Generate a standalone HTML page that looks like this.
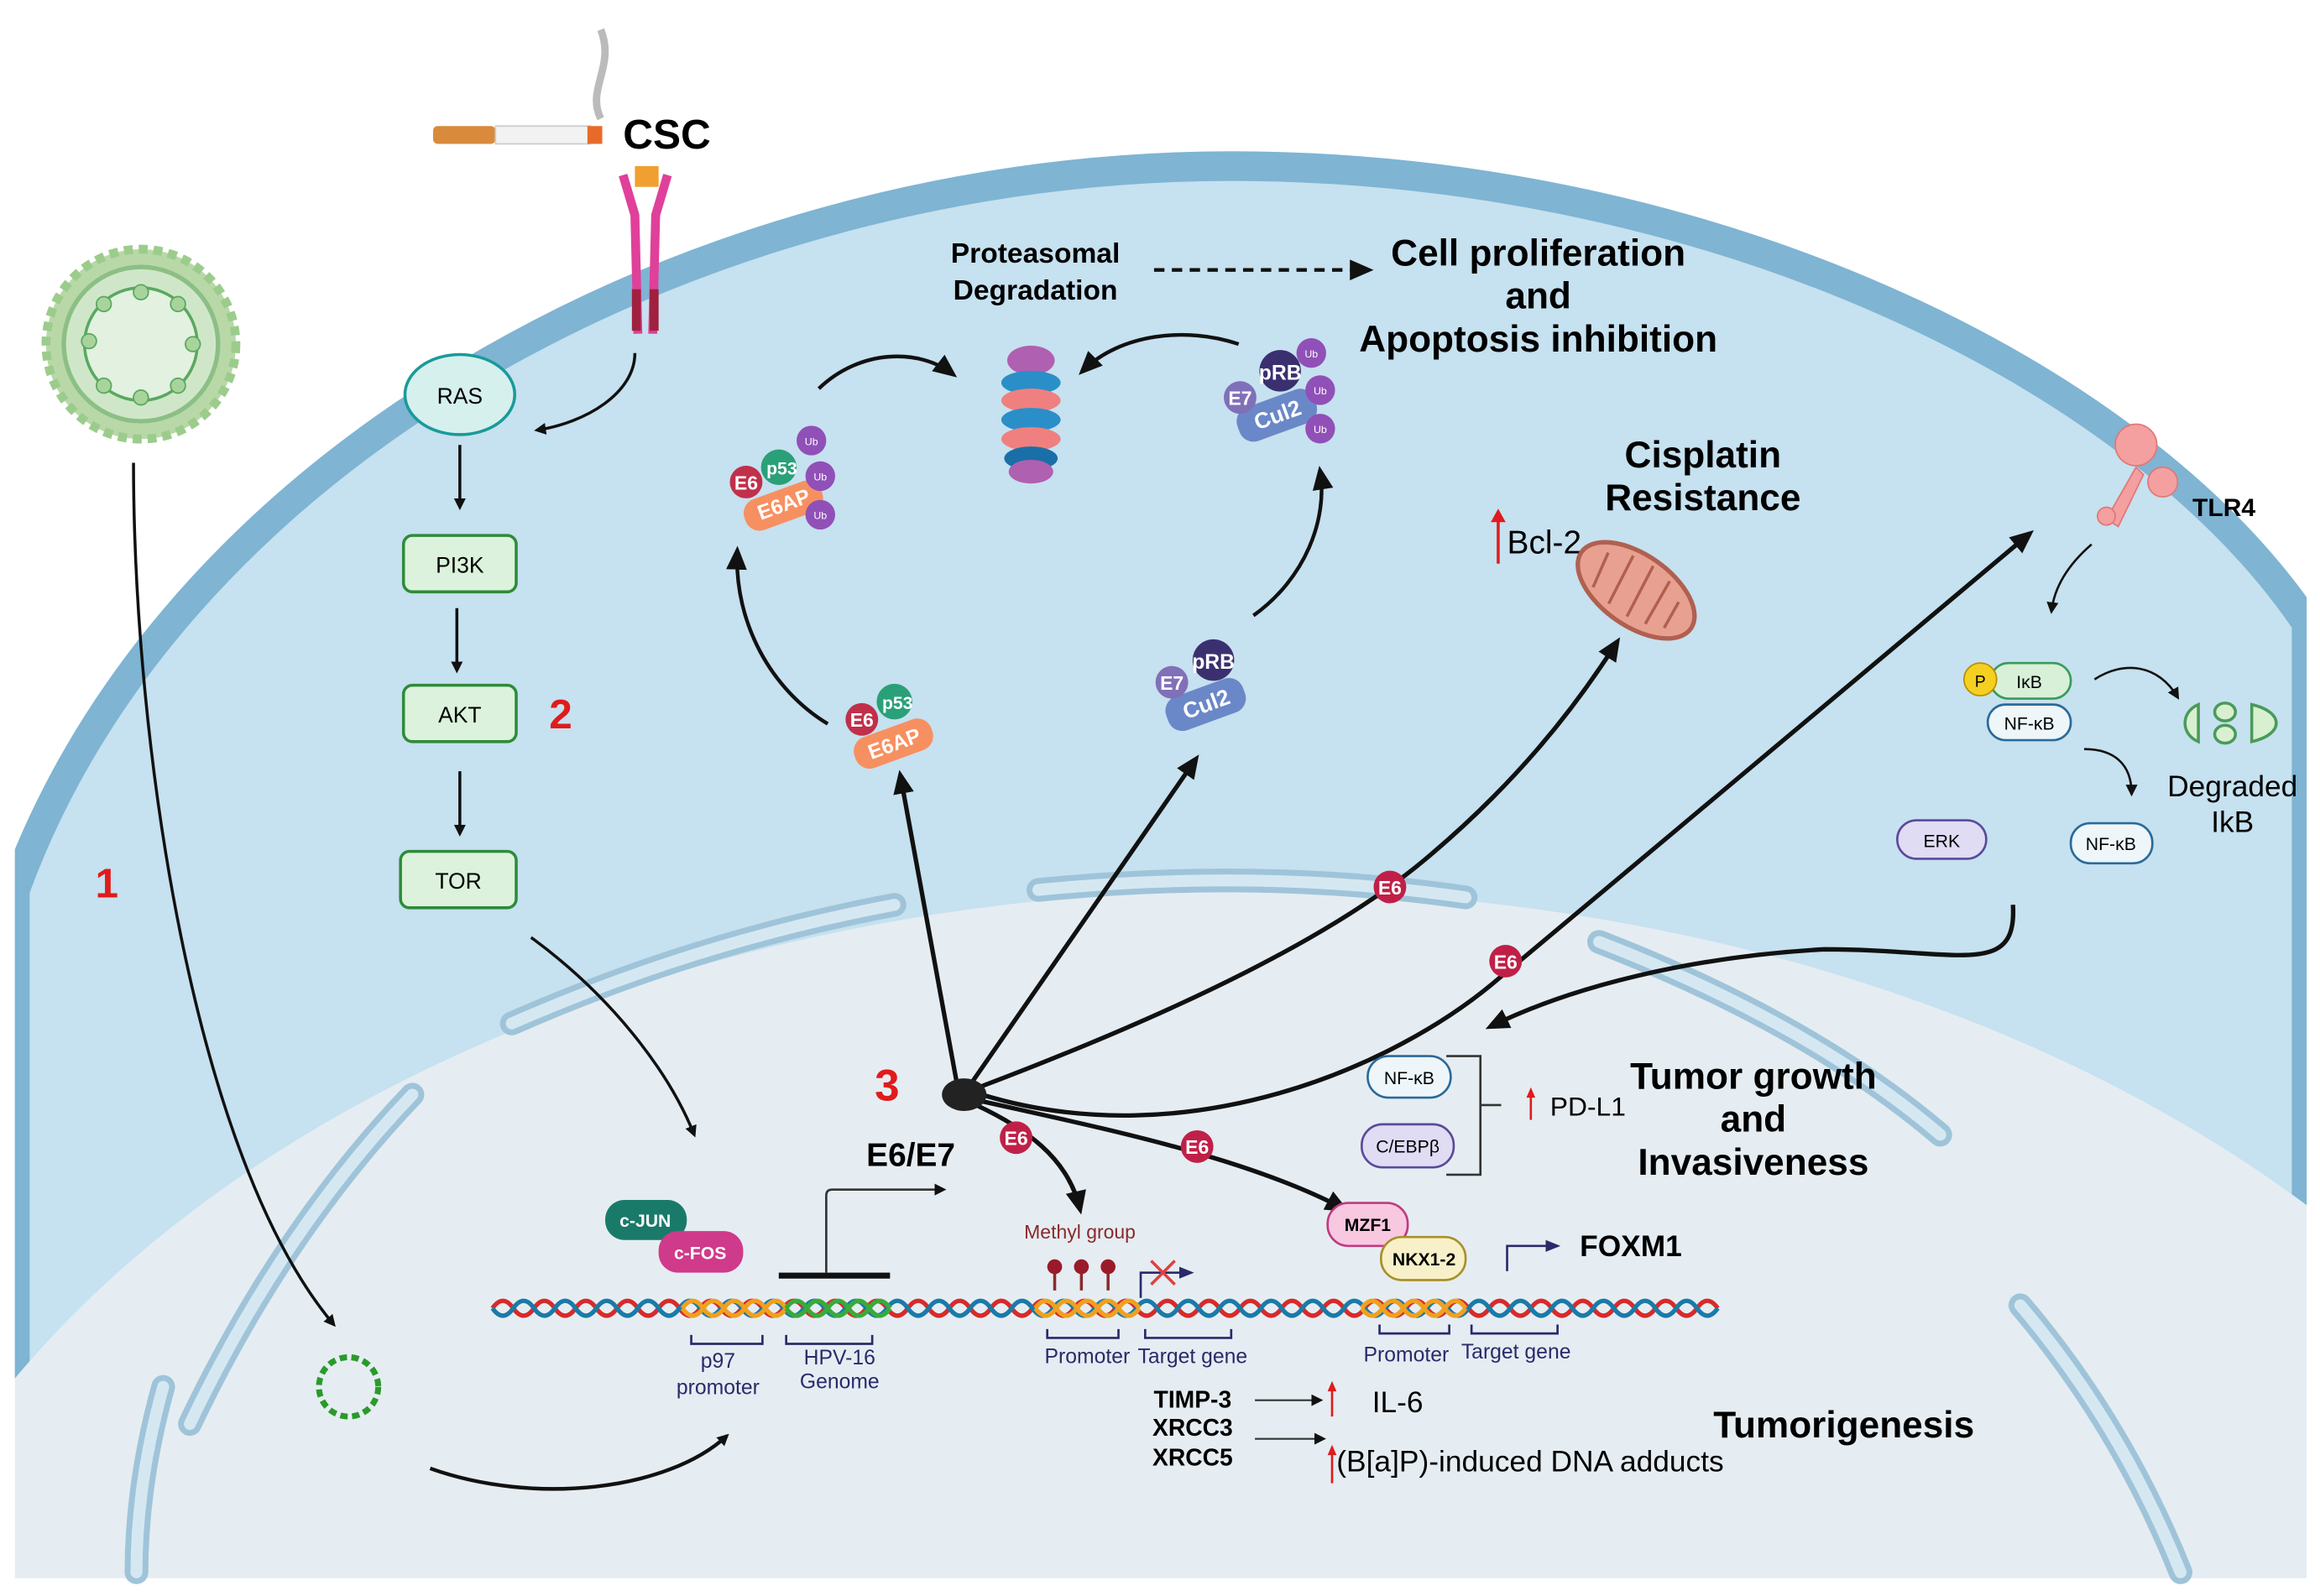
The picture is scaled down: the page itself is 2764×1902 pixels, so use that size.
<!DOCTYPE html>
<html><head><meta charset="utf-8"><style>
html,body{margin:0;padding:0;background:#fff;width:2764px;height:1902px;overflow:hidden}
svg{display:block}
text{font-family:"Liberation Sans Narrow","Liberation Sans",sans-serif}
.b{font-weight:bold}
</style></head><body>
<svg width="2764" height="1902" viewBox="0 0 1564 1076" preserveAspectRatio="none" xmlns="http://www.w3.org/2000/svg">
<defs>
<marker id="ah" markerWidth="8" markerHeight="8" refX="6" refY="4" orient="auto" markerUnits="userSpaceOnUse"><path d="M0,0 L8,4 L0,8 Z" fill="#111"/></marker>
<marker id="ahb" markerWidth="16" markerHeight="14" refX="12" refY="7" orient="auto" markerUnits="userSpaceOnUse"><path d="M0,0 L16,7 L0,14 Z" fill="#111"/></marker>
<marker id="ahn" markerWidth="10" markerHeight="10" refX="8" refY="5" orient="auto" markerUnits="userSpaceOnUse"><path d="M0,1 L10,5 L0,9 Z" fill="#2a2a6a"/></marker>
</defs>
<rect width="1564" height="1076" fill="#fff"/>
<path d="M10,1064 L10,600 C120,300 480,112 830,112 C1150,112 1440,250 1555,420 L1555,1064 Z" fill="#c6e1ef" stroke="#7fb4d3" stroke-width="20"/>
<rect x="0" y="1064" width="1564" height="12" fill="#fff"/>
<ellipse cx="845" cy="1250" rx="960" ry="650" fill="#e5edf2"/>
<rect x="0" y="1064" width="1564" height="12" fill="#fff"/>
<rect x="0" y="0" width="10" height="1076" fill="#fff"/>
<rect x="1555" y="0" width="9" height="1076" fill="#fff"/>
<g fill="none" stroke-linecap="round">
<g stroke="#9fc4d9" stroke-width="16">
<path d="M345,690 Q470,635 603,610"/><path d="M700,600 Q850,585 988,605"/><path d="M1078,635 Q1220,690 1308,765"/><path d="M1362,880 Q1430,960 1470,1060"/><path d="M128,960 Q190,830 278,738"/><path d="M110,935 Q92,1000 92,1060"/>
</g>
<g stroke="#d5e8f2" stroke-width="8">
<path d="M345,690 Q470,635 603,610"/><path d="M700,600 Q850,585 988,605"/><path d="M1078,635 Q1220,690 1308,765"/><path d="M1362,880 Q1430,960 1470,1060"/><path d="M128,960 Q190,830 278,738"/><path d="M110,935 Q92,1000 92,1060"/>
</g>
</g>
<g>
<circle cx="95" cy="232" r="64" fill="#b8d8a8" stroke="#9ccc8c" stroke-width="6" stroke-dasharray="6 4"/>
<circle cx="95" cy="232" r="52" fill="#cfe7c8" stroke="#8cbf85" stroke-width="3"/>
<circle cx="95" cy="232" r="38" fill="#e2f1e0" stroke="#5aa860" stroke-width="2"/>
<g fill="#a8d49c" stroke="#5aa860"><circle cx="60" cy="230" r="5"/><circle cx="130" cy="232" r="5"/><circle cx="95" cy="197" r="5"/><circle cx="95" cy="268" r="5"/><circle cx="70" cy="205" r="5"/><circle cx="120" cy="260" r="5"/><circle cx="70" cy="260" r="5"/><circle cx="120" cy="205" r="5"/></g>
</g>
<text x="72" y="605" font-size="28" fill="#e01b1b" class="b" text-anchor="middle">1</text>
<path d="M90,312 C90,500 130,780 225,893" stroke="#111" stroke-width="2" fill="none" marker-end="url(#ah)"/>
<circle cx="235" cy="935" r="20" fill="none" stroke="#2a9a2a" stroke-width="4" stroke-dasharray="5 3"/>
<path d="M290,990 C360,1015 450,1005 490,968" stroke="#111" stroke-width="2.5" fill="none" marker-end="url(#ah)"/>
<rect x="292" y="85" width="42" height="12" rx="3" fill="#d98a3a"/>
<rect x="334" y="85" width="64" height="12" fill="#f2f2f2" stroke="#ccc"/>
<rect x="396" y="85" width="10" height="12" fill="#e86a2a"/>
<path d="M405,80 C395,60 415,45 405,20" stroke="#bbb" stroke-width="5" fill="none"/>
<text x="420" y="100" font-size="28" class="b">CSC</text>
<path d="M420,118 L428,145 L430,225 M450,118 L442,145 L440,225" stroke="#e0409a" stroke-width="6" fill="none"/>
<rect x="426" y="195" width="6" height="28" fill="#a02040"/><rect x="438" y="195" width="6" height="28" fill="#a02040"/>
<rect x="428" y="112" width="16" height="14" fill="#f0a030"/>
<path d="M428,238 C428,265 395,285 362,290" stroke="#111" stroke-width="2" fill="none" marker-end="url(#ah)"/>
<ellipse cx="310" cy="266" rx="37" ry="27" fill="#d6f0ee" stroke="#1a9a9a" stroke-width="2"/>
<text x="310" y="272" font-size="15" text-anchor="middle">RAS</text>
<g fill="#dcf2dc" stroke="#2e8b3a" stroke-width="2">
<rect x="272" y="361" width="76" height="38" rx="6"/><rect x="272" y="462" width="76" height="38" rx="6"/><rect x="270" y="574" width="78" height="38" rx="6"/>
</g>
<g font-size="15" text-anchor="middle"><text x="310" y="386">PI3K</text><text x="310" y="487">AKT</text><text x="309" y="599">TOR</text></g>
<g stroke="#111" stroke-width="2" marker-end="url(#ah)"><line x1="310" y1="300" x2="310" y2="342"/><line x1="308" y1="410" x2="308" y2="452"/><line x1="310" y1="520" x2="310" y2="562"/></g>
<text x="378" y="491" font-size="28" fill="#e01b1b" class="b" text-anchor="middle">2</text>
<path d="M358,632 C410,670 450,720 468,765" stroke="#111" stroke-width="2" fill="none" marker-end="url(#ah)"/>
<g>
<ellipse cx="695" cy="243" rx="16" ry="10" fill="#b060b0"/>
<ellipse cx="695" cy="258" rx="20" ry="8" fill="#2a8fc8"/>
<ellipse cx="695" cy="270" rx="20" ry="8" fill="#f08080"/>
<ellipse cx="695" cy="283" rx="20" ry="8" fill="#2a8fc8"/>
<ellipse cx="695" cy="296" rx="20" ry="8" fill="#f08080"/>
<ellipse cx="695" cy="309" rx="18" ry="8" fill="#1a6fa8"/>
<ellipse cx="695" cy="318" rx="15" ry="8" fill="#b060b0"/>
</g>
<text x="698" y="177" font-size="19" class="b" text-anchor="middle">Proteasomal</text>
<text x="698" y="202" font-size="19" class="b" text-anchor="middle">Degradation</text>
<line x1="778" y1="182" x2="922" y2="182" stroke="#111" stroke-width="2.5" stroke-dasharray="7 5" marker-end="url(#ahb)"/>
<g font-size="25" class="b" text-anchor="middle"><text x="1037" y="179">Cell proliferation</text><text x="1037" y="208">and</text><text x="1037" y="237">Apoptosis inhibition</text>
<text x="1148" y="315">Cisplatin</text><text x="1148" y="344">Resistance</text>
<text x="1182" y="734">Tumor growth</text><text x="1182" y="763">and</text><text x="1182" y="792">Invasiveness</text>
<text x="1243" y="969">Tumorigenesis</text></g>
<g stroke="#111" stroke-width="2.5" fill="none" marker-end="url(#ahb)">
<path d="M552,262 C580,235 620,235 642,252"/>
<path d="M835,232 C800,220 755,225 730,250"/>
<path d="M845,415 C880,390 895,350 890,318"/>
<path d="M558,488 C520,465 495,420 497,372"/>
</g>
<g font-size="14" class="b" fill="#fff" text-anchor="middle">
<g transform="translate(525,325)"><rect x="-30" y="5" width="55" height="22" rx="10" fill="#f79060" transform="rotate(-20)"/><circle cx="0" cy="-10" r="12" fill="#2aa078"/><circle cx="-22" cy="0" r="11" fill="#c0304a"/><text x="-22" y="5" font-size="13">E6</text><text x="2" y="-5" font-size="12">p53</text><text x="-2" y="20" font-size="14" transform="rotate(-20)">E6AP</text>
<circle cx="22" cy="-28" r="10" fill="#9050b8"/><circle cx="28" cy="-4" r="10" fill="#9050b8"/><circle cx="28" cy="22" r="10" fill="#9050b8"/></g>
<g transform="translate(598,488)"><rect x="-28" y="3" width="55" height="22" rx="10" fill="#f79060" transform="rotate(-20)"/><circle cx="5" cy="-15" r="12" fill="#2aa078"/><circle cx="-17" cy="-3" r="11" fill="#c0304a"/><text x="-17" y="2" font-size="13">E6</text><text x="7" y="-10" font-size="12">p53</text><text x="0" y="19" font-size="14" transform="rotate(-20)">E6AP</text></g>
<g transform="translate(858,265)"><rect x="-30" y="3" width="55" height="24" rx="10" fill="#6a88c8" transform="rotate(-20)"/><circle cx="5" cy="-15" r="14" fill="#3a3070"/><circle cx="-22" cy="3" r="11" fill="#8070b8"/><text x="-22" y="8" font-size="13">E7</text><text x="5" y="-9" font-size="14">pRB</text><text x="-2" y="20" font-size="15" transform="rotate(-20)">Cul2</text>
<circle cx="26" cy="-27" r="10" fill="#9050b8"/><circle cx="32" cy="-2" r="10" fill="#9050b8"/><circle cx="32" cy="24" r="10" fill="#9050b8"/></g>
<g transform="translate(810,460)"><rect x="-30" y="3" width="55" height="24" rx="10" fill="#6a88c8" transform="rotate(-20)"/><circle cx="8" cy="-15" r="14" fill="#3a3070"/><circle cx="-20" cy="0" r="11" fill="#8070b8"/><text x="-20" y="5" font-size="13">E7</text><text x="8" y="-9" font-size="14">pRB</text><text x="-2" y="20" font-size="15" transform="rotate(-20)">Cul2</text></g>
</g>
<g font-size="7" fill="#fff" text-anchor="middle"><text x="547" y="300">Ub</text><text x="553" y="324">Ub</text><text x="553" y="350">Ub</text><text x="884" y="241">Ub</text><text x="890" y="266">Ub</text><text x="890" y="292">Ub</text></g>
<line x1="1010" y1="380" x2="1010" y2="348" stroke="#e01b1b" stroke-width="2"/><path d="M1005,352 L1010,343 L1015,352Z" fill="#e01b1b"/>
<text x="1016" y="373" font-size="22">Bcl-2</text>
<g transform="translate(1103,398) rotate(35)"><ellipse rx="45" ry="24" fill="#e8a090" stroke="#b06050" stroke-width="3"/><path d="M-30,-10 L-25,15 M-15,-18 L-10,18 M0,-20 L5,18 M15,-18 L18,15 M28,-10 L30,10" stroke="#b06050" stroke-width="2"/></g>
<g fill="#f4a0a0" stroke="#e07878"><path d="M1420,350 L1440,315 L1445,320 L1428,355Z"/><circle cx="1440" cy="300" r="14"/><circle cx="1458" cy="325" r="10"/><circle cx="1420" cy="348" r="6"/></g>
<text x="1478" y="348" font-size="17" class="b">TLR4</text>
<path d="M1410,367 C1395,380 1385,395 1383,412" stroke="#111" stroke-width="1.5" fill="none" marker-end="url(#ah)"/>
<rect x="1342" y="447" width="54" height="24" rx="12" fill="#d8f0d8" stroke="#3a9a5a" stroke-width="1.5"/>
<text x="1368" y="464" font-size="12" text-anchor="middle">IκB</text>
<circle cx="1335" cy="458" r="11" fill="#f5d020" stroke="#b89000"/><text x="1335" y="463" font-size="11" text-anchor="middle">P</text>
<rect x="1340" y="475" width="56" height="24" rx="12" fill="#eef6fa" stroke="#2a6a9a" stroke-width="1.5"/>
<text x="1368" y="492" font-size="12" text-anchor="middle">NF-κB</text>
<path d="M1412,458 C1432,445 1455,448 1468,470" stroke="#111" stroke-width="1.5" fill="none" marker-end="url(#ah)"/>
<path d="M1405,505 C1425,505 1437,515 1437,535" stroke="#111" stroke-width="1.5" fill="none" marker-end="url(#ah)"/>
<g fill="#d8f0d0" stroke="#4a9a5a" stroke-width="2"><path d="M1482,475 C1470,480 1470,495 1482,500 Z"/><ellipse cx="1500" cy="480" rx="7" ry="6"/><ellipse cx="1500" cy="495" rx="7" ry="6"/><path d="M1518,475 C1540,480 1540,495 1518,500 Z"/></g>
<text x="1505" y="537" font-size="20" text-anchor="middle">Degraded</text><text x="1505" y="561" font-size="20" text-anchor="middle">IkB</text>
<rect x="1279" y="553" width="60" height="26" rx="13" fill="#e0dcf4" stroke="#5a4a9a" stroke-width="1.5"/><text x="1309" y="571" font-size="12" text-anchor="middle">ERK</text>
<rect x="1396" y="555" width="55" height="27" rx="13" fill="#eef6fa" stroke="#2a6a9a" stroke-width="1.5"/><text x="1423" y="573" font-size="12" text-anchor="middle">NF-κB</text>
<g stroke="#111" stroke-width="3" fill="none" marker-end="url(#ahb)">
<path d="M645,730 L607,523"/>
<path d="M655,730 L806,512"/>
<path d="M660,733 C800,680 900,630 960,580 C1020,530 1060,480 1090,433"/>
<path d="M662,738 C800,780 940,720 1010,660 C1130,560 1260,450 1368,360"/>
<path d="M1357,610 C1360,660 1320,640 1230,640 C1140,645 1060,665 1005,692"/>
<path d="M658,745 C690,760 720,780 728,815"/>
<path d="M660,742 C740,760 840,780 906,815"/>
</g>
<ellipse cx="650" cy="738" rx="15" ry="11" fill="#222"/>
<text x="598" y="742" font-size="30" fill="#e01b1b" class="b" text-anchor="middle">3</text>
<g fill="#c02048" font-size="13" class="b"><circle cx="937" cy="598" r="11"/><circle cx="1015" cy="648" r="11"/><circle cx="685" cy="767" r="11"/><circle cx="807" cy="773" r="11"/></g>
<g fill="#fff" font-size="13" class="b" text-anchor="middle"><text x="937" y="603">E6</text><text x="1015" y="653">E6</text><text x="685" y="772">E6</text><text x="807" y="778">E6</text></g>
<text x="614" y="786" font-size="22" class="b" text-anchor="middle">E6/E7</text>
<rect x="408" y="809" width="55" height="27" rx="13" fill="#1a7a6a"/><text x="435" y="827" font-size="12" fill="#fff" class="b" text-anchor="middle">c-JUN</text>
<rect x="444" y="830" width="57" height="28" rx="13" fill="#d03a8a"/><text x="472" y="849" font-size="12" fill="#fff" class="b" text-anchor="middle">c-FOS</text>
<line x1="525" y1="860" x2="600" y2="860" stroke="#111" stroke-width="4"/>
<path d="M557,858 L557,806 Q557,802 561,802 L636,802" stroke="#333" stroke-width="1.5" fill="none" marker-end="url(#ah)"/>
<rect x="922" y="712" width="56" height="28" rx="14" fill="#eef6fa" stroke="#2a6a9a" stroke-width="1.5"/><text x="950" y="731" font-size="12" text-anchor="middle">NF-κB</text>
<rect x="918" y="758" width="62" height="29" rx="14" fill="#e0dcf4" stroke="#5a4a9a" stroke-width="1.5"/><text x="949" y="777" font-size="12" text-anchor="middle">C/EBPβ</text>
<path d="M975,712 L998,712 L998,792 L975,792 M998,745 L1012,745" stroke="#333" stroke-width="1.5" fill="none"/>
<line x1="1032" y1="755" x2="1032" y2="737" stroke="#e01b1b" stroke-width="1.5"/><path d="M1029,740 L1032,733 L1035,740Z" fill="#e01b1b"/>
<text x="1045" y="752" font-size="18">PD-L1</text>
<rect x="895" y="811" width="54" height="29" rx="14" fill="#f8c8e0" stroke="#c03a80" stroke-width="1.5"/><text x="922" y="830" font-size="12" class="b" text-anchor="middle">MZF1</text>
<rect x="931" y="834" width="57" height="29" rx="14" fill="#f8f0c8" stroke="#a8902a" stroke-width="1.5"/><text x="960" y="853" font-size="12" class="b" text-anchor="middle">NKX1-2</text>
<path d="M1016,857 L1016,840 L1050,840" stroke="#2a2a6a" stroke-width="1.5" fill="none" marker-end="url(#ahn)"/>
<text x="1065" y="847" font-size="20" class="b">FOXM1</text>
<text x="728" y="835" font-size="13" fill="#8a2a2a" text-anchor="middle">Methyl group</text>
<g stroke="#8a2a2a" stroke-width="2"><line x1="711" y1="855" x2="711" y2="870"/><line x1="729" y1="855" x2="729" y2="870"/><line x1="747" y1="855" x2="747" y2="870"/></g>
<g fill="#9a1a2a"><circle cx="711" cy="854" r="5"/><circle cx="729" cy="854" r="5"/><circle cx="747" cy="854" r="5"/></g>
<path d="M769,875 L769,858 L803,858" stroke="#2a2a6a" stroke-width="1.5" fill="none" marker-end="url(#ahn)"/>
<path d="M776,850 L792,866 M792,850 L776,866" stroke="#e04040" stroke-width="2"/>
<path d="M332,882 q7,-10 14,0 t14,0 t14,0 t14,0 t14,0 t14,0 t14,0 t14,0 t14,0 t14,0 t14,0 t14,0 t14,0 t14,0 t14,0 t14,0 t14,0 t14,0 t14,0 t14,0 t14,0 t14,0 t14,0 t14,0 t14,0 t14,0 t14,0 t14,0 t14,0 t14,0 t14,0 t14,0 t14,0 t14,0 t14,0 t14,0 t14,0 t14,0 t14,0 t14,0 t14,0 t14,0 t14,0 t14,0 t14,0 t14,0 t14,0 t14,0 t14,0 t14,0 t14,0 t14,0 t14,0 t14,0 t14,0 t14,0 t14,0 t14,0 t14,0" stroke="#d82a2a" stroke-width="3" fill="none"/>
<path d="M332,882 q7,10 14,0 t14,0 t14,0 t14,0 t14,0 t14,0 t14,0 t14,0 t14,0 t14,0 t14,0 t14,0 t14,0 t14,0 t14,0 t14,0 t14,0 t14,0 t14,0 t14,0 t14,0 t14,0 t14,0 t14,0 t14,0 t14,0 t14,0 t14,0 t14,0 t14,0 t14,0 t14,0 t14,0 t14,0 t14,0 t14,0 t14,0 t14,0 t14,0 t14,0 t14,0 t14,0 t14,0 t14,0 t14,0 t14,0 t14,0 t14,0 t14,0 t14,0 t14,0 t14,0 t14,0 t14,0 t14,0 t14,0 t14,0 t14,0 t14,0" stroke="#1a7aa8" stroke-width="3" fill="none"/>
<g fill="none" stroke-width="3">
<path d="M460,882 q7,-10 14,0 t14,0 t14,0 t14,0 t14,0 M460,882 q7,10 14,0 t14,0 t14,0 t14,0 t14,0" stroke="#f0a020"/>
<path d="M530,882 q7,-10 14,0 t14,0 t14,0 t14,0 t14,0 M530,882 q7,10 14,0 t14,0 t14,0 t14,0 t14,0" stroke="#3aaa3a"/>
<path d="M698,882 q7,-10 14,0 t14,0 t14,0 t14,0 t14,0 M698,882 q7,10 14,0 t14,0 t14,0 t14,0 t14,0" stroke="#f0a020"/>
<path d="M918,882 q7,-10 14,0 t14,0 t14,0 t14,0 t14,0 M918,882 q7,10 14,0 t14,0 t14,0 t14,0 t14,0" stroke="#f0a020"/>
</g>
<g stroke="#2a2a6a" stroke-width="1.5" fill="none">
<path d="M466,900 v6 h48 v-6"/><path d="M530,900 v6 h58 v-6"/><path d="M706,896 v6 h48 v-6"/><path d="M772,896 v6 h58 v-6"/><path d="M930,893 v6 h47 v-6"/><path d="M992,893 v6 h58 v-6"/>
</g>
<g font-size="14" fill="#2a2a6a" text-anchor="middle">
<text x="484" y="922">p97</text><text x="484" y="940">promoter</text><text x="566" y="920">HPV-16</text><text x="566" y="936">Genome</text>
<text x="733" y="919">Promoter</text><text x="804" y="919">Target gene</text><text x="948" y="918">Promoter</text><text x="1022" y="916">Target gene</text>
</g>
<g font-size="16" class="b" text-anchor="middle"><text x="804" y="949">TIMP-3</text><text x="804" y="968">XRCC3</text><text x="804" y="988">XRCC5</text></g>
<g stroke="#333" stroke-width="1.2" marker-end="url(#ah)"><line x1="846" y1="944" x2="890" y2="944"/><line x1="846" y1="970" x2="892" y2="970"/></g>
<line x1="898" y1="955" x2="898" y2="935" stroke="#e01b1b" stroke-width="1.5"/><path d="M895,938 L898,931 L901,938Z" fill="#e01b1b"/>
<line x1="898" y1="1000" x2="898" y2="978" stroke="#e01b1b" stroke-width="1.5"/><path d="M895,981 L898,974 L901,981Z" fill="#e01b1b"/>
<text x="925" y="952" font-size="20">IL-6</text>
<text x="901" y="992" font-size="20">(B[a]P)-induced DNA adducts</text>
</svg>
</body></html>
